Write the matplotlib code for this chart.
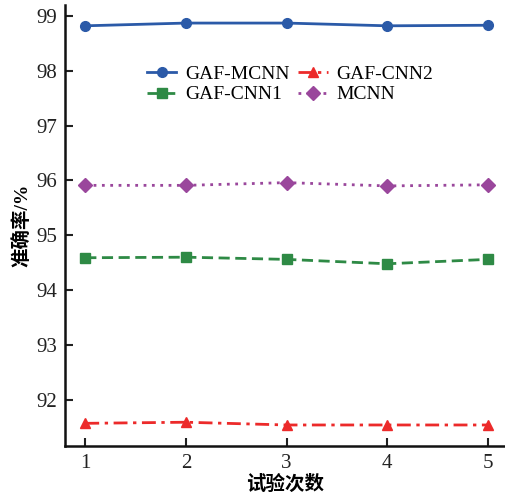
import matplotlib.pyplot as plt

# trial numbers and accuracy (%) per model
trials = [1, 2, 3, 4, 5]
gaf_mcnn = [98.82, 98.87, 98.87, 98.82, 98.83]
gaf_cnn1 = [94.59, 94.60, 94.56, 94.48, 94.56]
gaf_cnn2 = [91.57, 91.59, 91.54, 91.54, 91.54]
mcnn = [95.91, 95.91, 95.96, 95.90, 95.92]
y_ticks = [92, 93, 94, 95, 96, 97, 98, 99]

plt.rcParams['font.family'] = ['Liberation Serif', 'Noto Sans CJK SC']

fig = plt.figure(figsize=(5.05, 4.97), dpi=100)
ax = fig.add_axes([0.129, 0.103, 0.869, 0.887])

ax.plot(trials, gaf_mcnn, color='#2b5aa8', linestyle='-', linewidth=2,
        marker='o', markersize=7, label='GAF-MCNN')
ax.plot(trials, gaf_cnn1, color='#2e8a45', linestyle=(0, (4, 2)), linewidth=2,
        marker='s', markersize=7, label='GAF-CNN1')
ax.plot(trials, gaf_cnn2, color='#ec2a2a', linestyle=(0, (5, 2, 1.2, 2)), linewidth=2,
        marker='^', markersize=7.5, label='GAF-CNN2')
ax.plot(trials, mcnn, color='#9a479c', linestyle=(0, (1, 2)), linewidth=2,
        marker='D', markersize=7, label='MCNN')

ax.set_xlim(0.8, 5.16)
ax.set_ylim(91.16, 99.2)
ax.set_xticks(trials)
ax.set_yticks(y_ticks)
ax.tick_params(direction='in', length=6, width=1.5, labelsize=15, colors='#222222', pad=6)
for side in ['top', 'right']:
    ax.spines[side].set_visible(False)
for side in ['left', 'bottom']:
    ax.spines[side].set_linewidth(1.8)
    ax.spines[side].set_color('#111111')

ax.set_xlabel('试验次数', fontsize=14, fontweight='bold', labelpad=1)
ax.set_ylabel('准确率/%', fontsize=14, fontweight='bold', labelpad=3)

ax.legend(loc='center', bbox_to_anchor=(0.513, 0.82), ncol=2, frameon=False,
          fontsize=14, handlelength=1.5, columnspacing=0.45, labelspacing=0.15,
          handletextpad=0.45)

fig.savefig('out.png', dpi=100)
